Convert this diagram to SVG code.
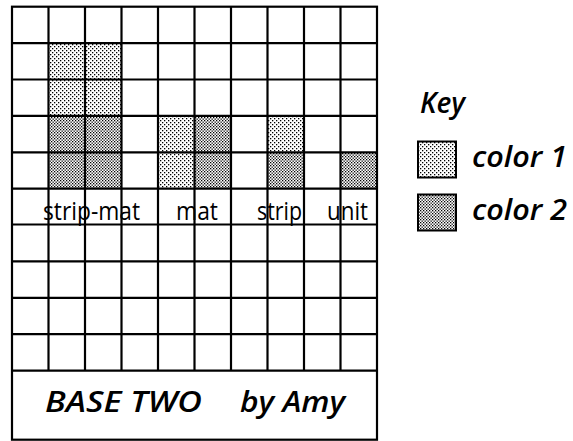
<svg xmlns="http://www.w3.org/2000/svg" width="573" height="441" viewBox="0 0 573 441">
<defs>
<pattern id="c1" width="4" height="4" patternUnits="userSpaceOnUse">
<rect width="4" height="4" fill="#fff"/>
<rect x="0" y="0" width="1.3" height="1.3" fill="#000"/>
<rect x="2" y="2" width="1.3" height="1.3" fill="#000"/>
</pattern>
<pattern id="c2" width="3" height="3" patternUnits="userSpaceOnUse">
<rect width="3" height="3" fill="#fff"/>
<rect x="0" y="0" width="1.3" height="1.3" fill="#000"/>
<rect x="1.5" y="1.5" width="1.3" height="1.3" fill="#000"/>
</pattern>
<style>
.grid line{stroke:#000;stroke-width:2.2}
.box{fill:none;stroke:#000;stroke-width:2.2}
.c1{fill:url(#c1)}
.c2{fill:url(#c2)}
.lbl{font-family:"Open Sans","Liberation Sans",sans-serif;font-size:26px;fill:#000}
.it{font-family:"Open Sans","Liberation Sans",sans-serif;font-size:28px;font-style:italic;font-weight:600;fill:#000}
</style>
</defs>
<rect width="573" height="441" fill="#fff"/>
<g id="shading">
<rect class="c1" x="48.5" y="43.1" width="73" height="36.4"/>
<rect class="c1" x="48.5" y="79.5" width="73" height="36.4"/>
<rect class="c2" x="48.5" y="115.9" width="73" height="72.8"/>
<rect class="c1" x="158" y="115.9" width="36.5" height="72.8"/>
<rect class="c2" x="194.5" y="115.9" width="36.5" height="72.8"/>
<rect class="c1" x="267.5" y="115.9" width="36.5" height="36.4"/>
<rect class="c2" x="267.5" y="152.3" width="36.5" height="36.4"/>
<rect class="c2" x="340.5" y="152.3" width="36.5" height="36.4"/>
</g>
<g id="grid" class="grid">
<line x1="48.5" y1="6.7" x2="48.5" y2="370.7"/>
<line x1="85" y1="6.7" x2="85" y2="370.7"/>
<line x1="121.5" y1="6.7" x2="121.5" y2="370.7"/>
<line x1="158" y1="6.7" x2="158" y2="370.7"/>
<line x1="194.5" y1="6.7" x2="194.5" y2="370.7"/>
<line x1="231" y1="6.7" x2="231" y2="370.7"/>
<line x1="267.5" y1="6.7" x2="267.5" y2="370.7"/>
<line x1="304" y1="6.7" x2="304" y2="370.7"/>
<line x1="340.5" y1="6.7" x2="340.5" y2="370.7"/>
<line x1="12" y1="43.1" x2="377" y2="43.1"/>
<line x1="12" y1="79.5" x2="377" y2="79.5"/>
<line x1="12" y1="115.9" x2="377" y2="115.9"/>
<line x1="12" y1="152.3" x2="377" y2="152.3"/>
<line x1="12" y1="188.7" x2="377" y2="188.7"/>
<line x1="12" y1="224.5" x2="377" y2="224.5"/>
<line x1="12" y1="261.3" x2="377" y2="261.3"/>
<line x1="12" y1="297.8" x2="377" y2="297.8"/>
<line x1="12" y1="334.2" x2="377" y2="334.2"/>
<line x1="12" y1="370.7" x2="377" y2="370.7"/>
<rect class="box" x="12" y="6.7" width="365" height="433"/>
</g>
<g id="labels">
<text class="lbl" x="43" y="220" textLength="97" lengthAdjust="spacingAndGlyphs">strip-mat</text>
<text class="lbl" x="176" y="220" textLength="42" lengthAdjust="spacingAndGlyphs">mat</text>
<text class="lbl" x="257" y="220" textLength="45" lengthAdjust="spacingAndGlyphs">strip</text>
<text class="lbl" x="327" y="220" textLength="41" lengthAdjust="spacingAndGlyphs">unit</text>
</g>
<g id="title">
<text class="it" x="45" y="412" textLength="157" lengthAdjust="spacingAndGlyphs">BASE TWO</text>
<text class="it" x="240" y="412" textLength="105" lengthAdjust="spacingAndGlyphs">by Amy</text>
</g>
<g id="key">
<text class="it" x="420" y="113" textLength="45" lengthAdjust="spacingAndGlyphs">Key</text>
<rect class="c1" x="418" y="141.5" width="38" height="36" stroke="#000" stroke-width="2"/>
<text class="it" x="472" y="167" textLength="95" lengthAdjust="spacingAndGlyphs">color 1</text>
<rect class="c2" x="418" y="194.5" width="38" height="36" stroke="#000" stroke-width="2"/>
<text class="it" x="472" y="220" textLength="95" lengthAdjust="spacingAndGlyphs">color 2</text>
</g>
</svg>
